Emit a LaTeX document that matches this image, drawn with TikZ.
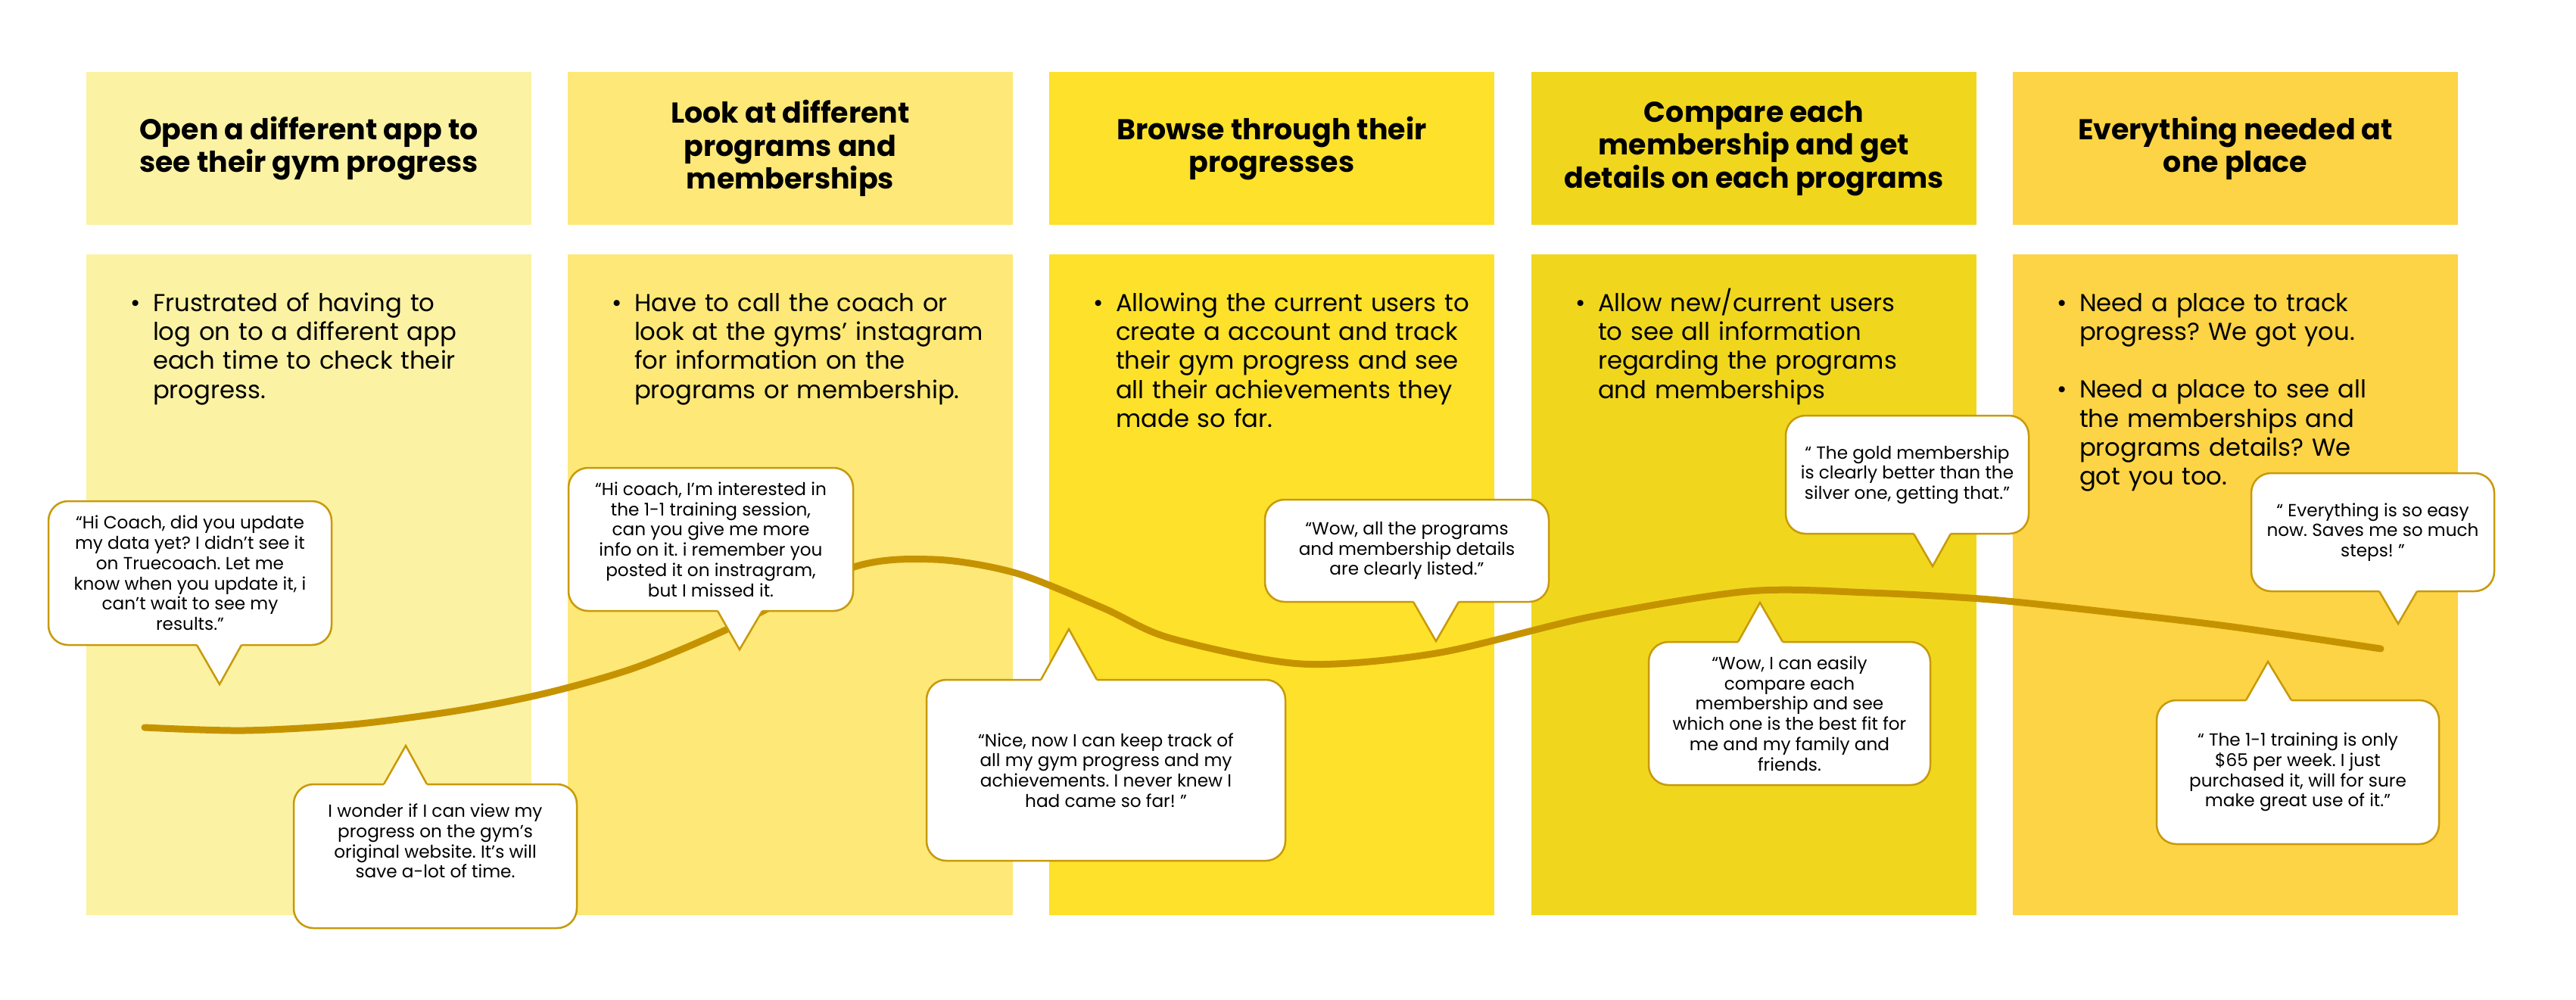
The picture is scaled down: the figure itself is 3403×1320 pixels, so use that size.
\documentclass[tikz,border=0pt]{standalone}
\usepackage{fontspec}
\setmainfont{Poppins}
\usepackage{enumitem}
\usetikzlibrary{positioning}

\definecolor{col1}{HTML}{FBF2A4}
\definecolor{col2}{HTML}{FDE878}
\definecolor{col3}{HTML}{FDE12B}
\definecolor{col4}{HTML}{F0D71E}
\definecolor{col5}{HTML}{FCD445}
\definecolor{borde}{HTML}{C89A0A}
\definecolor{linea}{HTML}{C69300}

\setlist[itemize]{leftmargin=2.9mm, labelsep=1.6mm, topsep=0pt, partopsep=0pt, parsep=0pt, itemsep=10.8pt}
\frenchspacing

\begin{document}
\begin{tikzpicture}[
        x=0.1mm, y=-0.1mm,
        cabecera/.style={
            minimum width=58.8mm,
            minimum height=20.2mm,
            inner sep=0pt,
            align=center,
            font=\fontsize{10.8}{12.4}\selectfont\bfseries
        },
        bloque/.style={
            minimum width=58.8mm,
            minimum height=87.3mm,
            inner sep=0pt
        },
        texto/.style={
            anchor=north west,
            inner sep=0pt,
            text width=56mm,
            font=\fontsize{9.2}{10.9}\selectfont
        },
        globo/.style={
            draw=borde,
            fill=white,
            line width=0.25mm,
            rounded corners=2.6mm,
            inner sep=0pt,
            align=center,
            font=\fontsize{6.6}{7.6}\selectfont
        },
        cola/.style={draw=borde, line width=0.25mm, line join=miter},
        curva/.style={draw=linea, line width=0.9mm, line cap=round}
    ]

    \useasboundingbox (0,0) rectangle (3403,1320);

    % Encabezados
    \node[cabecera, fill=col1] (h1) at (408,196)  {Open a different app to\\see their gym progress};
    \node[cabecera, fill=col2] (h2) at (1044,196) {Look at different\\programs and\\memberships};
    \node[cabecera, fill=col3] (h3) at (1680,196) {Browse through their\\progresses};
    \node[cabecera, fill=col4] (h4) at (2317,196) {Compare each\\membership and get\\details on each programs};
    \node[cabecera, fill=col5] (h5) at (2953,196) {Everything needed at\\one place};

    % Columnas
    \node[bloque, fill=col1] (b1) at (408,772.5)  {};
    \node[bloque, fill=col2] (b2) at (1044,772.5) {};
    \node[bloque, fill=col3] (b3) at (1680,772.5) {};
    \node[bloque, fill=col4] (b4) at (2317,772.5) {};
    \node[bloque, fill=col5] (b5) at (2953,772.5) {};

    \node[texto, below right=3.7mm and 5.9mm of b1.north west] (t1) {\begin{itemize}\item Frustrated of having to\\log on to a different app\\each time to check their\\progress.\end{itemize}};
    \node[texto, below right=3.7mm and 5.9mm of b2.north west] (t2) {\begin{itemize}\item Have to call the coach or\\look at the gyms’ instagram\\for information on the\\programs or membership.\end{itemize}};
    \node[texto, below right=3.7mm and 5.9mm of b3.north west] (t3) {\begin{itemize}\item Allowing the current users to\\create a account and track\\their gym progress and see\\all their achievements they\\made so far.\end{itemize}};
    \node[texto, below right=3.7mm and 5.9mm of b4.north west] (t4) {\begin{itemize}\item Allow new/current users\\to see all information\\regarding the programs\\and memberships\end{itemize}};
    \node[texto, below right=3.7mm and 5.9mm of b5.north west] (t5) {\begin{itemize}\item Need a place to track\\progress? We got you.\item Need a place to see all\\the memberships and\\programs details? We\\got you too.\end{itemize}};

    % Curva
    \draw[curva] plot[smooth, tension=0.5] coordinates {(191,961) (322,965) (466,957) (609,938) (724,915) (839,882) (959,832) (1125,750) (1234,739) (1342,757) (1457,803) (1546,843) (1719,877) (1897,863) (2100,815) (2310,781) (2470,783) (2629,792) (2789,809) (2949,828) (3145,857)};

    % Globos
    \node[globo, minimum width=37.4mm, minimum height=19mm]   (g1) at (251,757)     {“Hi Coach, did you update\\my data yet? I didn’t see it\\on Truecoach. Let me\\know when you update it, i\\can’t wait to see my\\results.”};
    \node[globo, minimum width=37.4mm, minimum height=19mm, text depth=4mm] (g2) at (575,1131) {I wonder if I can view my\\progress on the gym’s\\original website. It’s will\\save a-lot of time.};
    \node[globo, minimum width=37.6mm, minimum height=18.9mm] (g3) at (939,712.5)   {“Hi coach, I’m interested in\\the 1-1 training session,\\can you give me more\\info on it. i remember you\\posted it on instragram,\\but I missed it.};
    \node[globo, minimum width=47.4mm, minimum height=23.9mm] (g4) at (1461,1017.5) {“Nice, now I can keep track of\\all my gym progress and my\\achievements. I never knew I\\had came so far! ”};
    \node[globo, minimum width=37.5mm, minimum height=13.5mm] (g5) at (1858.5,727.5) {“Wow, all the programs\\and membership details\\are clearly listed.”};
    \node[globo, minimum width=32.1mm, minimum height=15.6mm] (g6) at (2519.5,627)  {“ The gold membership\\is clearly better than the\\silver one, getting that.”};
    \node[globo, minimum width=37.2mm, minimum height=18.9mm] (g7) at (2364,942.5)  {“Wow, I can easily\\compare each\\membership and see\\which one is the best fit for\\me and my family and\\friends.};
    \node[globo, minimum width=32.1mm, minimum height=15.6mm] (g8) at (3134.5,703)  {“ Everything is so easy\\now. Saves me so much\\steps! ”};
    \node[globo, minimum width=37.3mm, minimum height=19mm]   (g9) at (3035.5,1020) {“ The 1-1 training is only\\\$65 per week. I just\\purchased it, will for sure\\make great use of it.”};

    % Colas
    \foreach \a/\c/\y/\i/\tx/\ty in {260/319/852/845/290/904, 507/564/1036/1043/536/985,
        948/1007/807/800/977/858, 1375/1449/898/905/1412/831, 1867/1927/795/788/1897/847,
        2528/2577/705/698/2553/748, 2296/2355/848/855/2325/796, 3143/3193/781/774/3168/824,
        2967/3027/925/932/2996/874} {
        \fill[white] (\a,\i) -- (\a,\y) -- (\tx,\ty) -- (\c,\y) -- (\c,\i) -- cycle;
        \draw[cola] (\a,\y) -- (\tx,\ty) -- (\c,\y);
    }

\end{tikzpicture}
\end{document}
